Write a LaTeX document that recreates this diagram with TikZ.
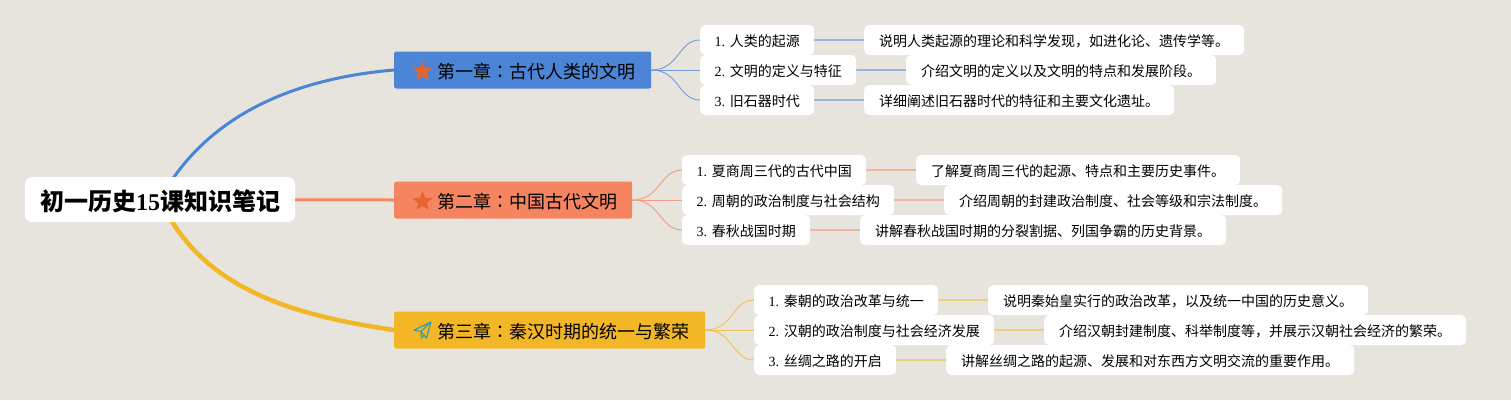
\documentclass[tikz,border=0pt]{standalone}
\usepackage{fontspec}
\setmainfont{Liberation Serif}
\newfontfamily\cjk{Noto Sans CJK SC}
\newfontfamily\cjktc{Noto Sans CJK TC}
\usetikzlibrary{shapes.geometric,backgrounds}
\definecolor{bgc}{HTML}{E6E4DC}
\definecolor{blu}{HTML}{4C84D6}
\definecolor{ora}{HTML}{F58560}
\definecolor{yel}{HTML}{F2B627}
\definecolor{stc}{HTML}{E2662F}
\definecolor{tea}{HTML}{3F9DA8}
\tikzset{
  x=1pt,y=-1pt,
  rootbox/.style={draw=none,fill=white,rounded corners=7pt,minimum width=270pt,minimum height=45pt,inner sep=0pt,anchor=center,font=\fontsize{24}{28}\selectfont\bfseries},
  chbox/.style={fill=#1,rounded corners=2pt,minimum height=37pt,inner sep=0pt,anchor=west,font=\fontsize{18}{22}\selectfont},
  subbox/.style={fill=white,rounded corners=5pt,minimum height=30pt,inner sep=0pt,anchor=west,font=\fontsize{14}{17}\selectfont},
  iconstar/.style={star,star points=5,star point ratio=2.3,fill=stc,draw=stc,line width=0.8pt,line join=round,minimum size=19pt,inner sep=0pt},
  trunk/.style={draw=#1,line width=3pt},
  twig/.style={draw=#1!75!bgc,line width=0.9pt},
  leaf/.style={draw=#1!50!bgc,line width=1.4pt},
}
\newcommand{\zh}[1]{{\cjk #1}}
\newcommand{\colonmark}{{\cjktc ：}}
\newcommand{\subnode}[5]{\node[subbox,minimum width=#3pt] (#1) at (#2,#4) {\raisebox{0pt}[14.3pt][2pt]{#5}};}
\newcommand{\chtext}[2]{\raisebox{0pt}[18.8pt][2pt]{\hspace*{#1pt}#2}}
\begin{document}
\begin{tikzpicture}
\useasboundingbox (0,0) rectangle (1511,400);
\node[rootbox] (root) at (160,199.5) {\raisebox{0pt}[23.6pt][2pt]{\zh{初一历史}15\zh{课知识笔记}}};
% chapters
\node[chbox=blu,minimum width=257pt] (c1) at (394,70) {\chtext{27}{\zh{第一章}\colonmark\zh{古代人类的文明}}};
\node[chbox=ora,minimum width=238pt] (c2) at (394,200) {\chtext{28}{\zh{第二章}\colonmark\zh{中国古代文明}}};
\node[chbox=yel,minimum width=311pt] (c3) at (394,330) {\chtext{27}{\zh{第三章}\colonmark\zh{秦汉时期的统一与繁荣}}};
\node[iconstar] (s1) at (422.5,71.5) {};
\node[iconstar] (s2) at (422.5,201.5) {};
\draw[tea,line width=1.2pt,line join=round] (414,330) -- (431,322) -- (426.5,338) -- (421,331.5) -- cycle (431,322) -- (421,331.5) -- (421.5,338) -- (424.5,335);
% chapter 1
\subnode{a1}{700}{114}{40}{1. \zh{人类的起源}}
\subnode{a2}{700}{156}{70}{2. \zh{文明的定义与特征}}
\subnode{a3}{700}{114}{100}{3. \zh{旧石器时代}}
\subnode{a4}{864}{380}{40}{\zh{说明人类起源的理论和科学发现，如进化论、遗传学等。}}
\subnode{a5}{906}{310}{70}{\zh{介绍文明的定义以及文明的特点和发展阶段。}}
\subnode{a6}{864}{310}{100}{\zh{详细阐述旧石器时代的特征和主要文化遗址。}}
% chapter 2
\subnode{b1}{682}{184}{170}{1. \zh{夏商周三代的古代中国}}
\subnode{b2}{682}{212}{200}{2. \zh{周朝的政治制度与社会结构}}
\subnode{b3}{682}{128}{230}{3. \zh{春秋战国时期}}
\subnode{b4}{916}{324}{170}{\zh{了解夏商周三代的起源、特点和主要历史事件。}}
\subnode{b5}{944}{338}{200}{\zh{介绍周朝的封建政治制度、社会等级和宗法制度。}}
\subnode{b6}{860}{366}{230}{\zh{讲解春秋战国时期的分裂割据、列国争霸的历史背景。}}
% chapter 3
\subnode{d1}{754}{184}{300}{1. \zh{秦朝的政治改革与统一}}
\subnode{d2}{754}{240}{330}{2. \zh{汉朝的政治制度与社会经济发展}}
\subnode{d3}{754}{142}{360}{3. \zh{丝绸之路的开启}}
\subnode{d4}{988}{380}{300}{\zh{说明秦始皇实行的政治改革，以及统一中国的历史意义。}}
\subnode{d5}{1044}{422}{330}{\zh{介绍汉朝封建制度、科举制度等，并展示汉朝社会经济的繁荣。}}
\subnode{d6}{946}{408}{360}{\zh{讲解丝绸之路的起源、发展和对东西方文明交流的重要作用。}}
\begin{scope}[on background layer]
\fill[bgc] (0,0) rectangle (1511,400);
\draw[trunk=blu] (root.center) .. controls +(48,-88) and +(-94,8) .. (c1.west);
\draw[trunk=ora] (root.center) -- (c2.west);
\draw[trunk=yel,line width=4.5pt] (root.center) .. controls +(40,86) and +(-110,-16) .. (c3.west);
\draw[twig=blu] (c1.east) .. controls +(28,0) and +(-22,0) .. (a1.west);
\draw[twig=blu] (c1.east) -- (a2.west);
\draw[twig=blu] (c1.east) .. controls +(28,0) and +(-22,0) .. (a3.west);
\draw[twig=ora] (c2.east) .. controls +(28,0) and +(-22,0) .. (b1.west);
\draw[twig=ora] (c2.east) -- (b2.west);
\draw[twig=ora] (c2.east) .. controls +(28,0) and +(-22,0) .. (b3.west);
\draw[twig=yel] (c3.east) .. controls +(28,0) and +(-22,0) .. (d1.west);
\draw[twig=yel] (c3.east) -- (d2.west);
\draw[twig=yel] (c3.east) .. controls +(28,0) and +(-22,0) .. (d3.west);
\foreach \u/\v/\c in {a1/a4/blu,a2/a5/blu,a3/a6/blu,b1/b4/ora,b2/b5/ora,b3/b6/ora,d1/d4/yel,d2/d5/yel,d3/d6/yel}
  \draw[leaf=\c] (\u.east) -- (\v.west);
\end{scope}
\end{tikzpicture}
\end{document}
